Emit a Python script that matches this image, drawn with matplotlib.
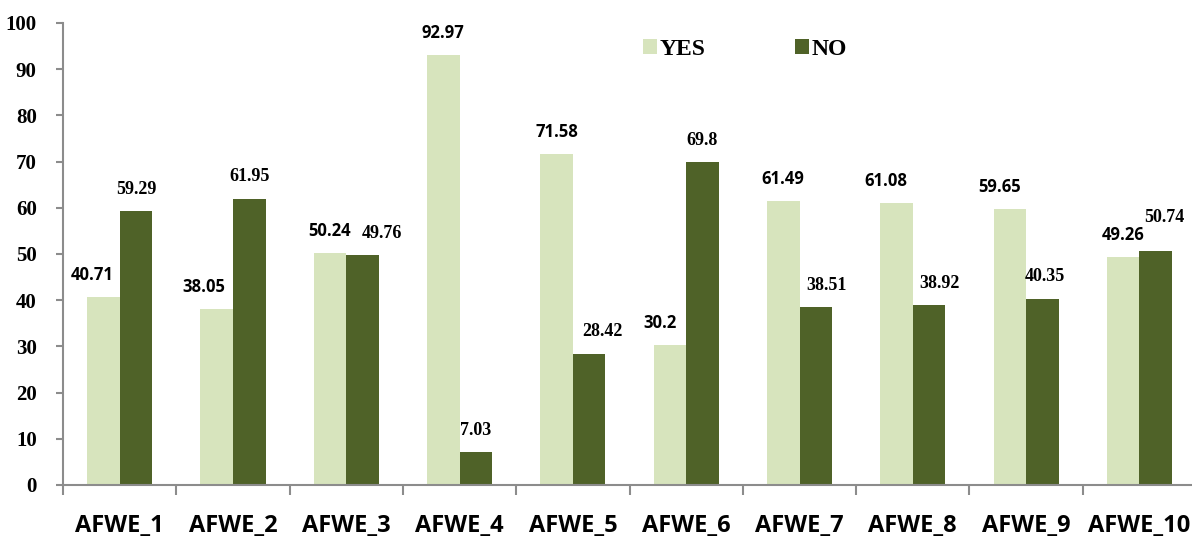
import numpy as np
import matplotlib.pyplot as plt

# data
categories = ['AFWE_1', 'AFWE_2', 'AFWE_3', 'AFWE_4', 'AFWE_5',
              'AFWE_6', 'AFWE_7', 'AFWE_8', 'AFWE_9', 'AFWE_10']
yes = [40.71, 38.05, 50.24, 92.97, 71.58, 30.2, 61.49, 61.08, 59.65, 49.26]
no = [59.29, 61.95, 49.76, 7.03, 28.42, 69.8, 38.51, 38.92, 40.35, 50.74]
yticks = list(range(0, 101, 10))

# label nudges (pixels) as placed in the original
yes_dx = [-11, -13, 0, 0, 0, -10, 0, -11, -10, 0]
no_dx = [0, 0, 19, 0, 13, 0, 11, 10, 3, 9]
no_dy = [0, 0, 0, 0, 0, 0, 0, 0, 0, 11]

yes_color = '#d7e4bd'
no_color = '#4f6228'
axis_color = '#8c8c8c'

fig = plt.figure(figsize=(11.92, 5.4), dpi=100)
ax = fig.add_axes([0.0529, 0.1019, 0.9505, 0.8556])

x = np.arange(len(categories))
w = 0.287
b1 = ax.bar(x - w / 2, yes, w, color=yes_color, label='YES')
b2 = ax.bar(x + w / 2, no, w, color=no_color, label='NO')

px = 72 / 100  # points per pixel
# value labels: YES in sans bold, NO in serif bold
for rect, v, dx in zip(b1, yes, yes_dx):
    ax.annotate(f'{v:g}', (rect.get_x() + rect.get_width() / 2, v),
                xytext=(dx * px, 22 * px), textcoords='offset points',
                ha='center', va='center', fontsize=12, fontweight='bold',
                family='Open Sans')
for rect, v, dx, dy in zip(b2, no, no_dx, no_dy):
    ax.annotate(f'{v:g}', (rect.get_x() + rect.get_width() / 2, v),
                xytext=(dx * px, (22 + dy) * px), textcoords='offset points',
                ha='center', va='center', fontsize=13, fontweight='bold',
                family='Liberation Serif')

ax.set_xlim(-0.5, len(categories) - 0.5)
ax.set_ylim(0, 100)
ax.set_yticks(yticks)
ax.set_yticklabels([str(t) for t in yticks], family='Liberation Serif',
                   fontweight='bold', fontsize=15)

ax.set_xticks(x)
ax.set_xticklabels(categories, family='Open Sans', fontweight='bold', fontsize=17)
ax.tick_params(axis='x', which='major', length=0, pad=21)
ax.set_xticks(np.arange(len(categories) + 1) - 0.5, minor=True)
ax.tick_params(axis='x', which='minor', length=7, width=1.5, color=axis_color)
ax.tick_params(axis='y', length=5, width=1.5, color=axis_color, pad=14)

for s in ['top', 'right']:
    ax.spines[s].set_visible(False)
for s in ['left', 'bottom']:
    ax.spines[s].set_color(axis_color)
    ax.spines[s].set_linewidth(1.5)

leg = ax.legend(loc='upper left', bbox_to_anchor=(0.493, 1.011), ncol=2, frameon=False,
                prop={'family': 'Liberation Serif', 'weight': 'bold', 'size': 17},
                handlelength=0.6, handleheight=0.6, handletextpad=0.1,
                columnspacing=3.8)

fig.savefig('out.png', dpi=100)
